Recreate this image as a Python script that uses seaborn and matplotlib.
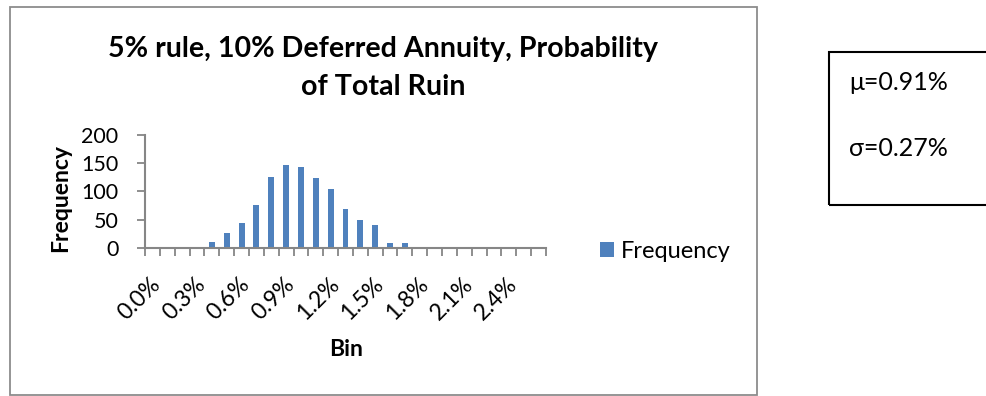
import matplotlib
matplotlib.use("Agg")
import matplotlib.pyplot as plt
from matplotlib.patches import Rectangle
from matplotlib.ticker import FixedLocator
import matplotlib.transforms as mtransforms
import seaborn as sns
import pandas as pd

# Histogram of the probability of total ruin (bins of 0.1%)
bins = ["0.0%", "0.1%", "0.2%", "0.3%", "0.4%", "0.5%", "0.6%", "0.7%", "0.8%",
        "0.9%", "1.0%", "1.1%", "1.2%", "1.3%", "1.4%", "1.5%", "1.6%", "1.7%",
        "1.8%", "1.9%", "2.0%", "2.1%", "2.2%", "2.3%", "2.4%", "2.5%", "2.6%"]
frequency = [0, 0, 0, 0, 11, 27, 44, 76, 126, 147, 143, 124, 104, 69, 50, 40,
             9, 9, 0, 0, 0, 0, 0, 0, 0, 0, 0]
shown_labels = ["0.0%", "0.3%", "0.6%", "0.9%", "1.2%", "1.5%", "1.8%", "2.1%", "2.4%"]
y_ticks = [0, 50, 100, 150, 200]
stats_lines = ["μ=0.91%", "σ=0.27%"]

sns.set_style("white")
plt.rcParams["font.family"] = ["Lato", "DejaVu Sans"]
plt.rcParams["text.color"] = "black"

W, H = 986, 396
fig = plt.figure(figsize=(W / 100, H / 100), dpi=100)


def fx(px):
    return px / W


def fy(py):
    return 1 - py / H


# Chart area border
fig.patches.append(Rectangle((fx(10), fy(395)), fx(757) - fx(10), fy(7) - fy(395),
                             transform=fig.transFigure, fill=False,
                             edgecolor="#8c8c8c", linewidth=1.3))

ax = fig.add_axes([fx(145), fy(248), fx(546) - fx(145), fy(135) - fy(248)])

df = pd.DataFrame({"Bin": bins, "Frequency": frequency})
sns.barplot(data=df, x="Bin", y="Frequency", order=bins, color="#4F81BD",
            saturation=1, width=0.4, linewidth=0, label="Frequency", ax=ax)

ax.set_xlim(-0.5, len(bins) - 0.5)
ax.set_ylim(0, 200)
ax.set_yticks(y_ticks)
ax.set_yticklabels([str(v) for v in y_ticks])
ax.set_xlabel("")
ax.set_ylabel("")

label_pos = [bins.index(b) for b in shown_labels]
ax.set_xticks(label_pos)
ax.set_xticklabels(shown_labels, rotation=45, ha="right", va="center",
                   rotation_mode="anchor")
ax.xaxis.set_minor_locator(FixedLocator([i - 0.5 for i in range(len(bins) + 1)]))

axis_grey = "#868686"
for side in ["top", "right"]:
    ax.spines[side].set_visible(False)
for side in ["left", "bottom"]:
    ax.spines[side].set_color(axis_grey)
    ax.spines[side].set_linewidth(1.5)

ax.tick_params(axis="x", which="major", length=0, pad=24, labelsize=16.5,
               labelcolor="black")
ax.tick_params(axis="x", which="minor", length=6, width=1.3, color=axis_grey,
               direction="out", bottom=True)
ax.tick_params(axis="y", which="major", length=6, width=1.3, color=axis_grey,
               direction="out", left=True, pad=13, labelsize=15.5, labelcolor="black")

shift = mtransforms.ScaledTranslation(5 / 100, 0, fig.dpi_scale_trans)
for lbl in ax.get_xticklabels():
    lbl.set_transform(lbl.get_transform() + shift)

# Title and axis titles
fig.text(fx(383), fy(57), "5% rule, 10% Deferred Annuity, Probability",
         ha="center", va="baseline", fontsize=20.6, fontweight="bold")
fig.text(fx(383), fy(95), "of Total Ruin",
         ha="center", va="baseline", fontsize=20.6, fontweight="bold")
fig.text(fx(61), fy(198), "Frequency", rotation=90, ha="center", va="center",
         fontsize=16.5, fontweight="bold")
fig.text(fx(346), fy(350), "Bin", ha="center", va="center",
         fontsize=16.5, fontweight="bold")

# Legend
handles, labels = ax.get_legend_handles_labels()
ax.legend(handles[:1], labels[:1], loc="center left",
          bbox_to_anchor=(fx(600), fy(251)), bbox_transform=fig.transFigure,
          frameon=False, fontsize=17, handlelength=0.6, handleheight=0.6,
          handletextpad=0.3, borderpad=0, borderaxespad=0)

# Summary statistics box
fig.patches.append(Rectangle((fx(829), fy(205)), fx(1000) - fx(829), fy(52) - fy(205),
                             transform=fig.transFigure, fill=False,
                             edgecolor="black", linewidth=1.5, clip_on=False))
fig.text(fx(849), fy(90), stats_lines[0], ha="left", va="baseline", fontsize=18)
fig.text(fx(849), fy(156), stats_lines[1], ha="left", va="baseline", fontsize=18)

fig.savefig("out.png", dpi=100, facecolor="white")
